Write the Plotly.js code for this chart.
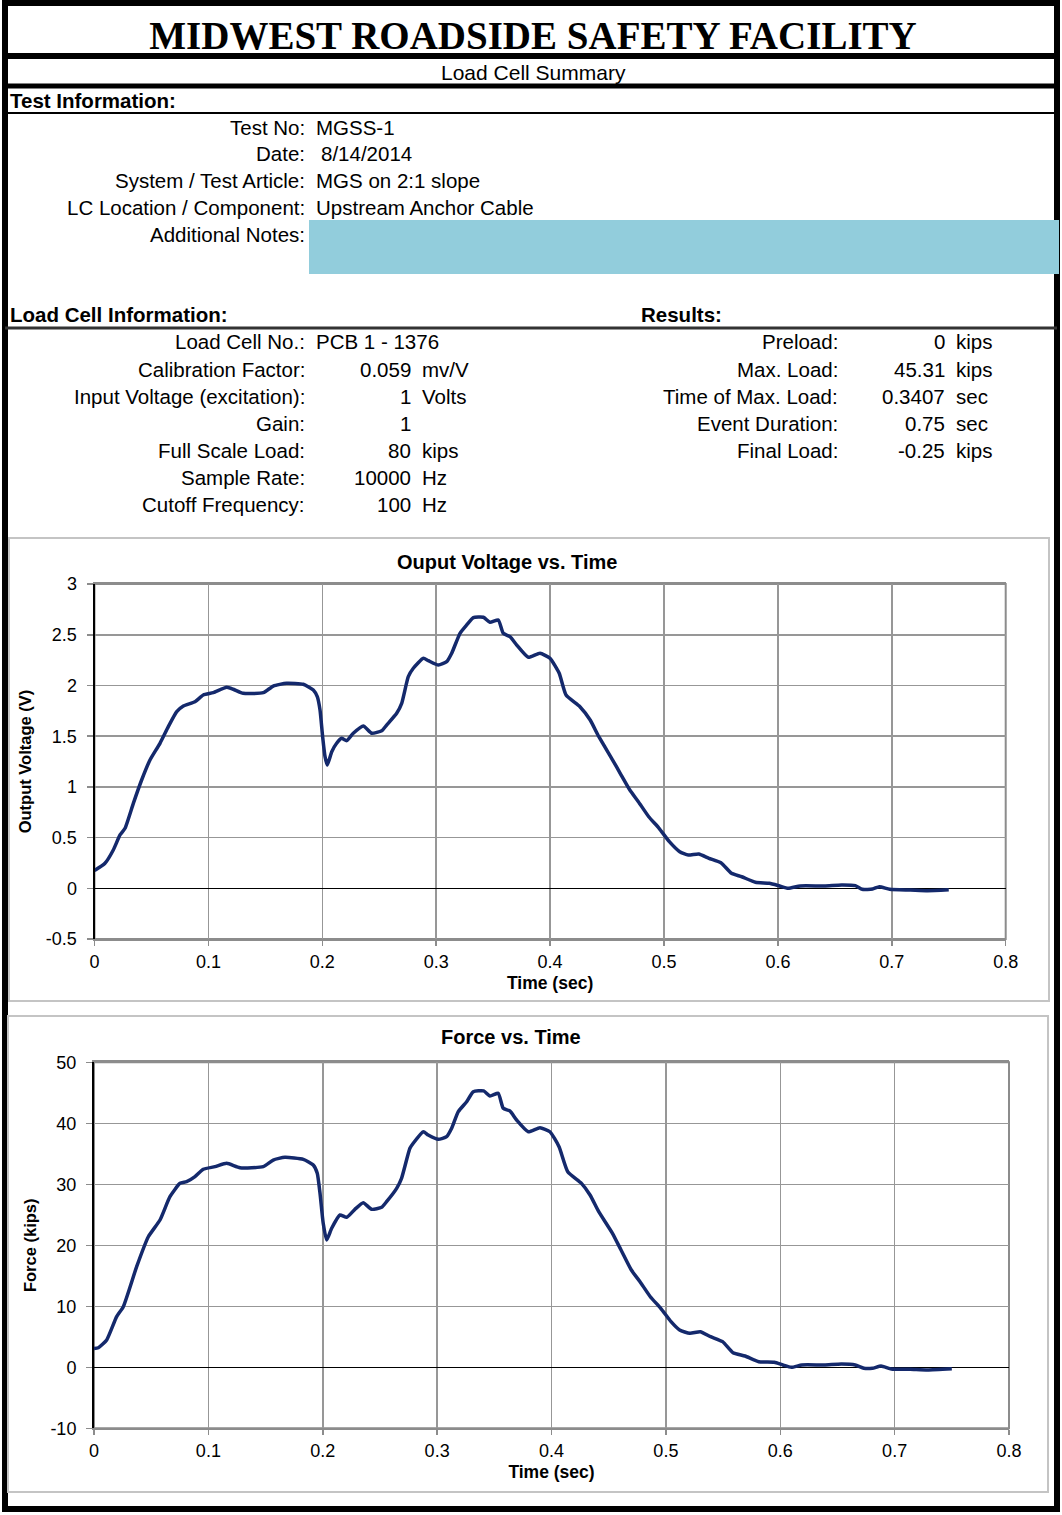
<!DOCTYPE html>
<html>
<head>
<meta charset="utf-8">
<script src="https://cdn.plot.ly/plotly-3.0.1.min.js"></script>
<style>
  html, body { margin: 0; padding: 0; background: #ffffff; }
  #chart { width: 1062px; height: 1515px; }
</style>
</head>
<body>
<div id="chart"></div>
<script>
// ---------------- DATA ----------------
const pageTitle = "MIDWEST ROADSIDE SAFETY FACILITY";
const subTitle = "Load Cell Summary";

const testInfoLabels = ["Test No:", "Date:", "System / Test Article:", "LC Location / Component:", "Additional Notes:"];
const testInfoValues = ["MGSS-1", "8/14/2014", "MGS on 2:1 slope", "Upstream Anchor Cable", ""];

const loadCellNoLabel = "Load Cell No.:";
const loadCellNo = "PCB 1 - 1376";
const lcLabels = ["Calibration Factor:", "Input Voltage (excitation):", "Gain:", "Full Scale Load:", "Sample Rate:", "Cutoff Frequency:"];
const lcValues = ["0.059", "1", "1", "80", "10000", "100"];
const lcUnits  = ["mv/V", "Volts", "", "kips", "Hz", "Hz"];

const resLabels = ["Preload:", "Max. Load:", "Time of Max. Load:", "Event Duration:", "Final Load:"];
const resValues = ["0", "45.31", "0.3407", "0.75", "-0.25"];
const resUnits  = ["kips", "kips", "sec", "sec", "kips"];

const voltTitle = "Ouput Voltage vs. Time";
const forceTitle = "Force vs. Time";
const xTitle = "Time (sec)";
const voltAxisTitle = "Output Voltage (V)";
const forceAxisTitle = "Force (kips)";

const xTickVals = [0, 0.1, 0.2, 0.3, 0.4, 0.5, 0.6, 0.7, 0.8];
const xTickText = ["0", "0.1", "0.2", "0.3", "0.4", "0.5", "0.6", "0.7", "0.8"];
const voltTickVals = [-0.5, 0, 0.5, 1, 1.5, 2, 2.5, 3];
const voltTickText = ["-0.5", "0", "0.5", "1", "1.5", "2", "2.5", "3"];
const forceTickVals = [-10, 0, 10, 20, 30, 40, 50];
const forceTickText = ["-10", "0", "10", "20", "30", "40", "50"];

// Output voltage (V) vs time (sec)
const voltTime = [0, 0.0092, 0.0165, 0.0224, 0.0268, 0.0341, 0.0414, 0.0487, 0.0575, 0.0648,
  0.0722, 0.078, 0.0882, 0.0955, 0.1043, 0.1161, 0.1219, 0.1306, 0.1482, 0.157,
  0.1687, 0.1833, 0.1921, 0.1956, 0.198, 0.2003, 0.2024, 0.2044, 0.2083, 0.2126,
  0.217, 0.2214, 0.2272, 0.236, 0.2434, 0.2522, 0.2565, 0.2653, 0.2697, 0.2755,
  0.2799, 0.2887, 0.2931, 0.3019, 0.3092, 0.3136, 0.3209, 0.3268, 0.3326, 0.3414,
  0.3472, 0.3545, 0.3589, 0.3648, 0.3707, 0.3809, 0.3911, 0.3999, 0.408, 0.414,
  0.4262, 0.4352, 0.4428, 0.4549, 0.4624, 0.47, 0.4775, 0.4866, 0.4957, 0.5047,
  0.5138, 0.5213, 0.5305, 0.5395, 0.55, 0.5592, 0.5682, 0.5803, 0.5925, 0.6015,
  0.609, 0.6196, 0.6408, 0.6559, 0.668, 0.674, 0.6831, 0.6891, 0.6982, 0.7163,
  0.7315, 0.75];
const voltage = [0.175, 0.247, 0.378, 0.526, 0.592, 0.838, 1.068, 1.265, 1.43, 1.594,
  1.742, 1.798, 1.84, 1.906, 1.929, 1.982, 1.963, 1.923, 1.929, 1.995,
  2.022, 2.012, 1.956, 1.89, 1.758, 1.495, 1.298, 1.216, 1.347, 1.43,
  1.479, 1.456, 1.529, 1.601, 1.529, 1.554, 1.61, 1.726, 1.824, 2.087,
  2.17, 2.268, 2.245, 2.202, 2.235, 2.318, 2.515, 2.597, 2.669, 2.673,
  2.623, 2.646, 2.515, 2.481, 2.399, 2.278, 2.318, 2.268, 2.12, 1.906,
  1.791, 1.66, 1.495, 1.265, 1.117, 0.969, 0.854, 0.706, 0.592, 0.46,
  0.361, 0.328, 0.338, 0.296, 0.252, 0.148, 0.114, 0.059, 0.049, 0.023,
  0.0, 0.023, 0.023, 0.033, 0.026, -0.01, -0.007, 0.016, -0.01, -0.017,
  -0.024, -0.015];

// Force (kips) vs time (sec)
const forceTime = [0, 0.0038, 0.0111, 0.0198, 0.0256, 0.0373, 0.0475, 0.0577, 0.0664, 0.0752,
  0.081, 0.0883, 0.0955, 0.1058, 0.116, 0.1276, 0.148, 0.1567, 0.1669, 0.183,
  0.1917, 0.1952, 0.1976, 0.2004, 0.2034, 0.2078, 0.215, 0.2209, 0.2281, 0.2354,
  0.2427, 0.2515, 0.2558, 0.2646, 0.2689, 0.2762, 0.2791, 0.2879, 0.2922, 0.301,
  0.3083, 0.3127, 0.3185, 0.3258, 0.3316, 0.3407, 0.3462, 0.3534, 0.3578, 0.3636,
  0.3695, 0.3797, 0.3899, 0.3986, 0.4066, 0.4142, 0.4262, 0.4337, 0.4413, 0.4533,
  0.4608, 0.4698, 0.4774, 0.4864, 0.4955, 0.5045, 0.512, 0.521, 0.5301, 0.5391,
  0.5496, 0.5587, 0.5692, 0.5812, 0.5948, 0.6023, 0.6098, 0.6189, 0.6385, 0.6535,
  0.6655, 0.6731, 0.6806, 0.6881, 0.6971, 0.7136, 0.7288, 0.75];
const force = [3.1, 3.2, 4.48, 8.3, 9.93, 16.5, 21.4, 24.15, 27.97, 30.16,
  30.43, 31.25, 32.46, 32.89, 33.44, 32.72, 32.89, 33.98, 34.43, 34.1,
  33.16, 31.8, 28.52, 23.61, 20.87, 22.79, 24.97, 24.59, 25.9, 26.98,
  25.9, 26.23, 27.15, 29.34, 30.98, 35.9, 36.72, 38.62, 38.08, 37.38,
  37.8, 39.18, 41.9, 43.54, 45.18, 45.31, 44.48, 44.92, 42.46, 42.02,
  40.54, 38.62, 39.28, 38.62, 36.16, 32.07, 30.16, 28.25, 25.51, 21.97,
  19.23, 15.95, 14.03, 11.57, 9.67, 7.48, 6.11, 5.57, 5.84, 5.02,
  4.2, 2.39, 1.85, 0.92, 0.82, 0.38, 0.0, 0.38, 0.38, 0.54,
  0.38, -0.16, -0.16, 0.21, -0.28, -0.33, -0.44, -0.25];

// ---------------- LAYOUT HELPERS ----------------
const W = 1062, H = 1515;
const px = v => v / W;
const py = v => 1 - v / H;
const SANS = "Arial, 'Liberation Sans', sans-serif";
const SERIF = "'Times New Roman', 'Liberation Serif', serif";
const LINE_COLOR = "#14296c";
const INFO_SIZE = 20.5;

function txt(text, x, y, anchor, size, bold) {
  return {
    text: bold ? "<b>" + text + "</b>" : text,
    x: px(x), y: py(y), xref: "paper", yref: "paper",
    xanchor: anchor, yanchor: "middle", showarrow: false,
    font: { family: SANS, size: size, color: "#000000" }
  };
}

const annotations = [];
annotations.push(txt(subTitle, 533, 72, "center", 21, false));
annotations.push(txt("Test Information:", 8, 101, "left", INFO_SIZE, true));
testInfoLabels.forEach((l, i) => {
  const y = 127 + 27 * i;
  annotations.push(txt(l, 307, y, "right", INFO_SIZE, false));
  if (testInfoValues[i]) annotations.push(txt(testInfoValues[i], i === 1 ? 319 : 314, y, "left", INFO_SIZE, false));
});
annotations.push(txt("Load Cell Information:", 8, 315, "left", INFO_SIZE, true));
annotations.push(txt("Results:", 639, 315, "left", INFO_SIZE, true));
annotations.push(txt(loadCellNoLabel, 307, 342, "right", INFO_SIZE, false));
annotations.push(txt(loadCellNo, 314, 342, "left", INFO_SIZE, false));
lcLabels.forEach((l, i) => {
  const y = 369 + 27 * i;
  annotations.push(txt(l, 307, y, "right", INFO_SIZE, false));
  annotations.push(txt(lcValues[i], 413, y, "right", INFO_SIZE, false));
  if (lcUnits[i]) annotations.push(txt(lcUnits[i], 420, y, "left", INFO_SIZE, false));
});
resLabels.forEach((l, i) => {
  const y = 342 + 27 * i;
  annotations.push(txt(l, 840, y, "right", INFO_SIZE, false));
  annotations.push(txt(resValues[i], 947, y, "right", INFO_SIZE, false));
  annotations.push(txt(resUnits[i], 954, y, "left", INFO_SIZE, false));
});
annotations.push(txt(voltTitle, 507, 562, "center", 20, true));
annotations.push(txt(forceTitle, 511, 1037, "center", 20, true));

const shapes = [
  // page frame and header rules
  { type: "rect", xref: "paper", yref: "paper", x0: px(5), x1: px(1057), y0: py(3), y1: py(1509),
    line: { color: "#000", width: 6 } },
  { type: "line", xref: "paper", yref: "paper", x0: px(5), x1: px(1057), y0: py(56), y1: py(56),
    line: { color: "#000", width: 6 } },
  { type: "line", xref: "paper", yref: "paper", x0: px(5), x1: px(1057), y0: py(86), y1: py(86),
    line: { color: "#000", width: 5 } },
  { type: "line", xref: "paper", yref: "paper", x0: px(5), x1: px(1057), y0: py(113), y1: py(113),
    line: { color: "#000", width: 2 } },
  { type: "line", xref: "paper", yref: "paper", x0: px(5), x1: px(1057), y0: py(328), y1: py(328),
    line: { color: "#333", width: 3 } },
  // additional notes box
  { type: "rect", xref: "paper", yref: "paper", x0: px(309), x1: px(1059), y0: py(220), y1: py(274),
    fillcolor: "#92CDDC", line: { width: 0 } },
  // chart frames
  { type: "rect", xref: "paper", yref: "paper", x0: px(9), x1: px(1049), y0: py(538), y1: py(1001),
    line: { color: "#c4c4c4", width: 2 } },
  { type: "rect", xref: "paper", yref: "paper", x0: px(8), x1: px(1048), y0: py(1016), y1: py(1492),
    line: { color: "#c4c4c4", width: 2 } },
  // plot-area borders
  { type: "rect", xref: "x domain", yref: "y domain", x0: 0, x1: 1, y0: 0, y1: 1, layer: "below",
    line: { color: "#8c8c8c", width: 2 } },
  { type: "rect", xref: "x2 domain", yref: "y2 domain", x0: 0, x1: 1, y0: 0, y1: 1, layer: "below",
    line: { color: "#8c8c8c", width: 2 } }
];

function xAxis(domain, anchor) {
  return {
    domain: domain, anchor: anchor, range: [0, 0.8], fixedrange: true,
    tickvals: xTickVals, ticktext: xTickText,
    tickfont: { family: SANS, size: 18, color: "#000" },
    ticks: "outside", ticklen: 5, tickcolor: "#8c8c8c", tickwidth: 1.5,
    showgrid: true, gridcolor: "#979797", gridwidth: 1.5,
    zeroline: false, showline: true, linecolor: "#8c8c8c", linewidth: 2, mirror: true,
    title: { text: "<b>" + xTitle + "</b>", font: { family: SANS, size: 17.5, color: "#000" }, standoff: 6 },
    automargin: false
  };
}
function yAxis(domain, anchor, range, tv, tt, title) {
  return {
    domain: domain, anchor: anchor, range: range, fixedrange: true,
    tickvals: tv, ticktext: tt,
    tickfont: { family: SANS, size: 18, color: "#000" },
    ticks: "outside", ticklen: 6, tickcolor: "#8c8c8c", tickwidth: 1.5, ticklabelstandoff: 6,
    showgrid: true, gridcolor: "#979797", gridwidth: 1.5,
    zeroline: true, zerolinecolor: "#000", zerolinewidth: 1.5,
    showline: true, linecolor: "#000", linewidth: 2, mirror: false,
    title: { text: "<b>" + title + "</b>", font: { family: SANS, size: 16.5, color: "#000" }, standoff: 10 },
    automargin: false
  };
}

const traces = [
  { type: "scatter", mode: "lines", x: voltTime, y: voltage, xaxis: "x", yaxis: "y",
    line: { color: LINE_COLOR, width: 3.5, shape: "spline", smoothing: 0.5 }, hoverinfo: "x+y" },
  { type: "scatter", mode: "lines", x: forceTime, y: force, xaxis: "x2", yaxis: "y2",
    line: { color: LINE_COLOR, width: 3.5, shape: "spline", smoothing: 0.5 }, hoverinfo: "x+y" }
];

const layout = {
  width: W, height: H,
  margin: { l: 0, r: 0, t: 0, b: 0, pad: 0 },
  paper_bgcolor: "#ffffff", plot_bgcolor: "#ffffff",
  showlegend: false,
  title: { text: "<b>" + pageTitle + "</b>", x: px(533), xanchor: "center", xref: "paper",
    y: py(35), yanchor: "middle", yref: "container",
    font: { family: SERIF, size: 39, color: "#000" } },
  xaxis: xAxis([px(94.5), px(1005.7)], "y"),
  yaxis: yAxis([py(939), py(584.1)], "x", [-0.5, 3], voltTickVals, voltTickText, voltAxisTitle),
  xaxis2: xAxis([px(94), px(1009)], "y2"),
  yaxis2: yAxis([py(1428.3), py(1062.3)], "x2", [-10, 50], forceTickVals, forceTickText, forceAxisTitle),
  shapes: shapes,
  annotations: annotations
};

Plotly.newPlot("chart", traces, layout, { displayModeBar: false, staticPlot: true });
</script>
</body>
</html>
